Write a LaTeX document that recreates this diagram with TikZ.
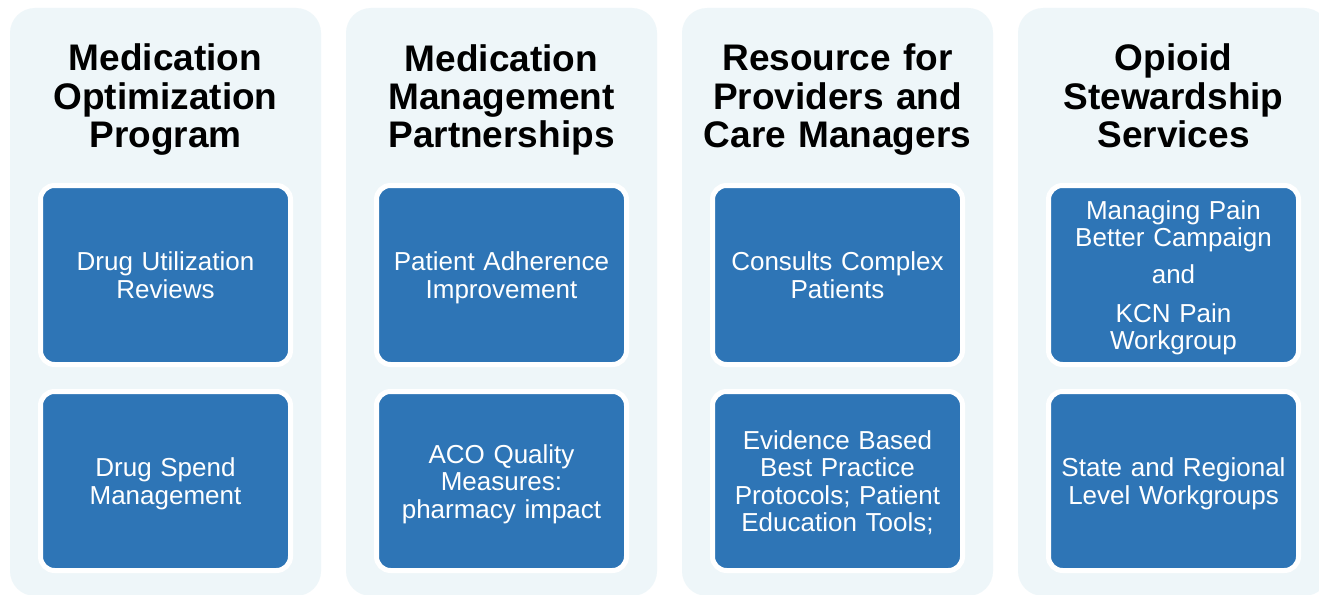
\documentclass[tikz,border=0pt]{standalone}
\usepackage{fontspec}
\setmainfont{Liberation Sans}
\definecolor{panelbg}{HTML}{EEF6F9}
\definecolor{itemblue}{HTML}{2E75B6}
\begin{document}
\begin{tikzpicture}[x=1pt,y=-1pt,
  panel/.style={rectangle, rounded corners=25pt, fill=panelbg, minimum width=311pt, minimum height=588pt, inner sep=0pt},
  title/.style={align=center, text width=300pt, font=\bfseries\fontsize{37}{38}\selectfont, inner sep=0pt,
    execute at begin node=\strut, execute at end node=\strut},
  % the taller opening strut sets the text a little below the box centre
  item/.style={rectangle, rounded corners=14pt, fill=itemblue, draw=white, line width=5pt,
    minimum width=250pt, minimum height=179pt, text width=238pt, align=center, text=white,
    font=\fontsize{26}{27.5}\selectfont, inner sep=0pt,
    execute at begin node=\rule{0pt}{27.5pt}, execute at end node=\strut}]
\useasboundingbox (0,0) rectangle (1319,594);
\clip (0,0) rectangle (1319,594);
\fill[white] (0,0) rectangle (1319,594);

% column panels
\node[panel] (p1) at (165.5,302) {};
\node[panel] (p2) at (501.5,302) {};
\node[panel] (p3) at (837.5,302) {};
\node[panel] (p4) at (1173.5,302) {};

% headings
\node[title] (t1) at (165.5,101.5) {Medication\\Optimization\\Program};
\node[title] (t2) at (501.5,101.5) {Medication\\Management\\Partnerships};
\node[title] (t3) at (837.5,101.5) {Resource for\\Providers and\\Care Managers};
\node[title] (t4) at (1173.5,101.5) {Opioid\\Stewardship\\Services};

% service boxes
\node[item] (a1) at (165.5,275) {Drug Utilization\\Reviews};
\node[item] (b1) at (165.5,481) {Drug Spend\\Management};
\node[item] (a2) at (501.5,275) {Patient Adherence\\Improvement};
\node[item] (b2) at (501.5,481) {ACO Quality\\Measures:\\pharmacy impact};
\node[item] (a3) at (837.5,275) {Consults Complex\\Patients};
\node[item] (b3) at (837.5,481) {Evidence Based\\Best Practice\\Protocols; Patient\\Education Tools;};
\node[item] (a4) at (1173.5,275) {Managing Pain\\Better Campaign\\[9.5pt]and\\[11pt]KCN Pain\\Workgroup};
\node[item] (b4) at (1173.5,481) {State and Regional\\Level Workgroups};
\end{tikzpicture}
\end{document}
